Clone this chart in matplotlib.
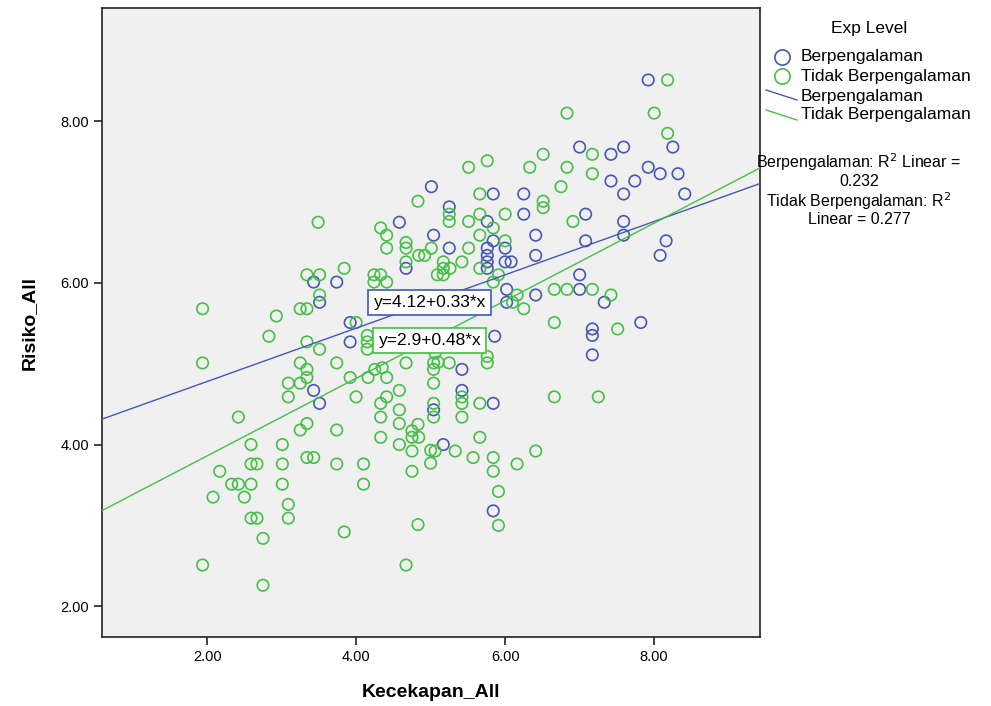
import matplotlib.pyplot as plt
from matplotlib.lines import Line2D

plt.rcParams['font.family'] = ['Liberation Sans', 'DejaVu Sans']

# Berpengalaman
blue_x = [7.92, 7.00, 7.59, 7.42, 8.25, 7.42, 7.74, 7.92, 8.08, 8.32, 7.59, 8.41, 6.25, 5.84,
          6.25, 7.08, 7.59, 7.59, 6.41, 7.08, 6.41, 8.16, 8.08, 7.00, 7.00, 6.41, 7.33, 7.82,
          7.17, 7.17, 7.17, 5.25, 5.76, 5.84, 5.76, 5.76, 5.76, 5.76, 6.00, 6.08, 5.25, 5.04,
          5.01, 6.02, 6.02, 6.00, 5.42, 5.42, 5.84, 5.17, 5.84, 5.04, 4.58, 4.67, 3.43, 3.74,
          3.51, 3.92, 3.92, 3.43, 3.51, 5.86]
blue_y = [8.51, 7.68, 7.68, 7.59, 7.68, 7.26, 7.26, 7.43, 7.35, 7.35, 7.10, 7.10, 7.10, 7.10,
          6.85, 6.85, 6.76, 6.59, 6.59, 6.52, 6.34, 6.52, 6.34, 6.10, 5.92, 5.85, 5.76, 5.51,
          5.43, 5.35, 5.11, 6.94, 6.76, 6.52, 6.43, 6.34, 6.26, 6.18, 6.26, 6.26, 6.43, 6.59,
          7.19, 5.92, 5.76, 6.43, 4.93, 4.67, 4.51, 4.00, 3.18, 4.43, 6.75, 6.18, 6.01, 6.01,
          5.76, 5.51, 5.27, 4.67, 4.51, 5.34]

# Tidak Berpengalaman
green_x = [8.18, 6.83, 8.00, 8.18, 7.17, 6.51, 5.76, 5.51, 6.33, 6.83, 7.17, 6.75, 5.66, 6.51,
           6.51, 6.00, 5.66, 5.25, 5.25, 5.51, 6.91, 5.84, 5.66, 6.00, 5.51, 5.42, 5.17, 5.66,
           5.91, 5.84, 6.66, 6.83, 7.17, 7.42, 6.16, 6.25, 6.66, 7.51, 6.66, 7.25, 5.42, 5.42,
           5.42, 5.66, 5.66, 5.06, 5.33, 5.57, 5.84, 5.84, 6.16, 6.41, 5.91, 5.91, 5.25, 5.76,
           5.76, 5.04, 5.04, 5.04, 5.04, 1.94, 2.42, 3.25, 3.34, 3.09, 3.25, 3.34, 3.09, 3.74,
           3.92, 4.00, 4.25, 4.16, 4.41, 4.58, 4.41, 4.33, 4.58, 4.33, 4.58, 4.67, 3.34, 3.25,
           3.74, 4.33, 4.58, 4.75, 4.83, 4.75, 4.84, 4.75, 4.75, 2.59, 3.01, 2.59, 2.67, 3.01,
           3.34, 3.43, 3.74, 4.10, 2.17, 2.33, 2.42, 2.59, 3.01, 4.10, 2.08, 2.50, 3.09, 2.59,
           2.67, 3.09, 2.75, 3.84, 4.83, 1.94, 4.67, 2.75, 5.04, 3.49, 4.83, 4.33, 4.41, 4.67,
           4.67, 4.41, 4.84, 4.92, 4.67, 3.84, 3.34, 3.51, 4.24, 4.33, 4.24, 4.41, 3.51, 1.94,
           2.93, 3.25, 3.34, 2.83, 3.34, 4.00, 3.51, 4.15, 4.15, 4.15, 5.01, 5.17, 5.26, 5.09,
           5.17, 6.10, 4.35, 5.10, 5.06, 5.00, 5.00]
green_y = [8.51, 8.10, 8.10, 7.85, 7.59, 7.59, 7.51, 7.43, 7.43, 7.43, 7.35, 7.19, 7.10, 7.01,
           6.93, 6.85, 6.85, 6.85, 6.76, 6.76, 6.76, 6.68, 6.59, 6.52, 6.43, 6.26, 6.26, 6.18,
           6.10, 6.01, 5.92, 5.92, 5.92, 5.85, 5.85, 5.68, 5.51, 5.43, 4.59, 4.59, 4.59, 4.51,
           4.34, 4.51, 4.09, 3.92, 3.92, 3.84, 3.84, 3.67, 3.76, 3.92, 3.42, 3.00, 5.01, 5.09,
           5.01, 4.93, 4.76, 4.51, 4.34, 5.01, 4.34, 5.01, 4.93, 4.76, 4.76, 4.83, 4.59, 5.01,
           4.83, 4.59, 4.93, 4.83, 4.83, 4.67, 4.59, 4.51, 4.43, 4.34, 4.26, 5.01, 4.26, 4.18,
           4.18, 4.09, 4.00, 4.17, 4.25, 4.09, 4.09, 3.92, 3.67, 4.00, 4.00, 3.76, 3.76, 3.76,
           3.84, 3.84, 3.76, 3.76, 3.67, 3.51, 3.51, 3.51, 3.51, 3.51, 3.35, 3.35, 3.26, 3.09,
           3.09, 3.09, 2.84, 2.92, 3.01, 2.51, 2.51, 2.26, 5.01, 6.75, 7.01, 6.68, 6.59, 6.50,
           6.43, 6.43, 6.34, 6.34, 6.26, 6.18, 6.10, 6.10, 6.10, 6.10, 6.01, 6.01, 5.85, 5.68,
           5.59, 5.68, 5.68, 5.34, 5.27, 5.51, 5.18, 5.18, 5.27, 5.35, 6.43, 6.18, 6.18, 6.10,
           6.10, 5.76, 4.95, 5.02, 5.13, 3.93, 3.77]

groups = ['Berpengalaman', 'Tidak Berpengalaman']
intercepts = [4.12, 2.9]
slopes = [0.33, 0.48]
r2 = [0.232, 0.277]
ticks = [2.0, 4.0, 6.0, 8.0]

blue = '#4458b4'
green = '#44c044'

fig = plt.figure(figsize=(9.91, 7.06), dpi=100)
ax = fig.add_axes([102/991, 1-637/706, 658/991, 629/706])
ax.set_facecolor('#f0f0f0')

ax.scatter(blue_x, blue_y, s=68, facecolors='none', edgecolors=blue, linewidths=1.2, zorder=3)
ax.scatter(green_x, green_y, s=68, facecolors='none', edgecolors=green, linewidths=1.2, zorder=3)

xmin, xmax = 0.59, 9.42
ax.set_xlim(xmin, xmax)
ax.set_ylim(1.62, 9.40)
for a, b, c in zip(intercepts, slopes, [blue, green]):
    ax.plot([xmin, xmax], [a + b*xmin, a + b*xmax], color=c, lw=1.0, zorder=4)

ax.text(4.99, 5.76, 'y=%.2f+%.2f*x' % (intercepts[0], slopes[0]), fontsize=12.5,
        ha='center', va='center', zorder=5,
        bbox=dict(boxstyle='square,pad=0.3', fc='white', ec=blue, lw=1.2))
ax.text(4.99, 5.29, 'y=%.1f+%.2f*x' % (intercepts[1], slopes[1]), fontsize=12.5,
        ha='center', va='center', zorder=5,
        bbox=dict(boxstyle='square,pad=0.3', fc='white', ec=green, lw=1.2))

ax.set_xticks(ticks)
ax.set_yticks(ticks)
ax.set_xticklabels(['%.2f' % t for t in ticks])
ax.set_yticklabels(['%.2f' % t for t in ticks])
ax.tick_params(direction='out', length=6, width=1.2, labelsize=10.5, color='#222222')
for sp in ax.spines.values():
    sp.set_color('#222222')
    sp.set_linewidth(1.2)
ax.set_xlabel('Kecekapan_All', fontsize=14, fontweight='bold', labelpad=14)
ax.set_ylabel('Risiko_All', fontsize=14, fontweight='bold', labelpad=16)

# legend area drawn in figure pixels
lax = fig.add_axes([0, 0, 1, 1], facecolor='none')
lax.set_xlim(0, 991)
lax.set_ylim(706, 0)
lax.axis('off')
lax.text(869, 28, 'Exp Level', fontsize=12.5, ha='center', va='center')
lax.plot([782], [57], 'o', ms=11, mfc='none', mec=blue, mew=1.2)
lax.plot([782], [76], 'o', ms=11, mfc='none', mec=green, mew=1.2)
lax.add_line(Line2D([766, 797], [90, 100], color=blue, lw=1.0))
lax.add_line(Line2D([766, 797], [110, 120], color=green, lw=1.0))
for yy, lab in zip([57, 76, 96, 115], groups + groups):
    lax.text(801, yy, lab, fontsize=12.5, ha='left', va='center')
lax.text(859, 162, '%s: R$^2$ Linear =' % groups[0], fontsize=11.5, ha='center', va='center')
lax.text(859, 182, '%.3f' % r2[0], fontsize=11.5, ha='center', va='center')
lax.text(859, 201, '%s: R$^2$' % groups[1], fontsize=11.5, ha='center', va='center')
lax.text(859, 220, 'Linear = %.3f' % r2[1], fontsize=11.5, ha='center', va='center')

fig.savefig('out.png', dpi=100)
